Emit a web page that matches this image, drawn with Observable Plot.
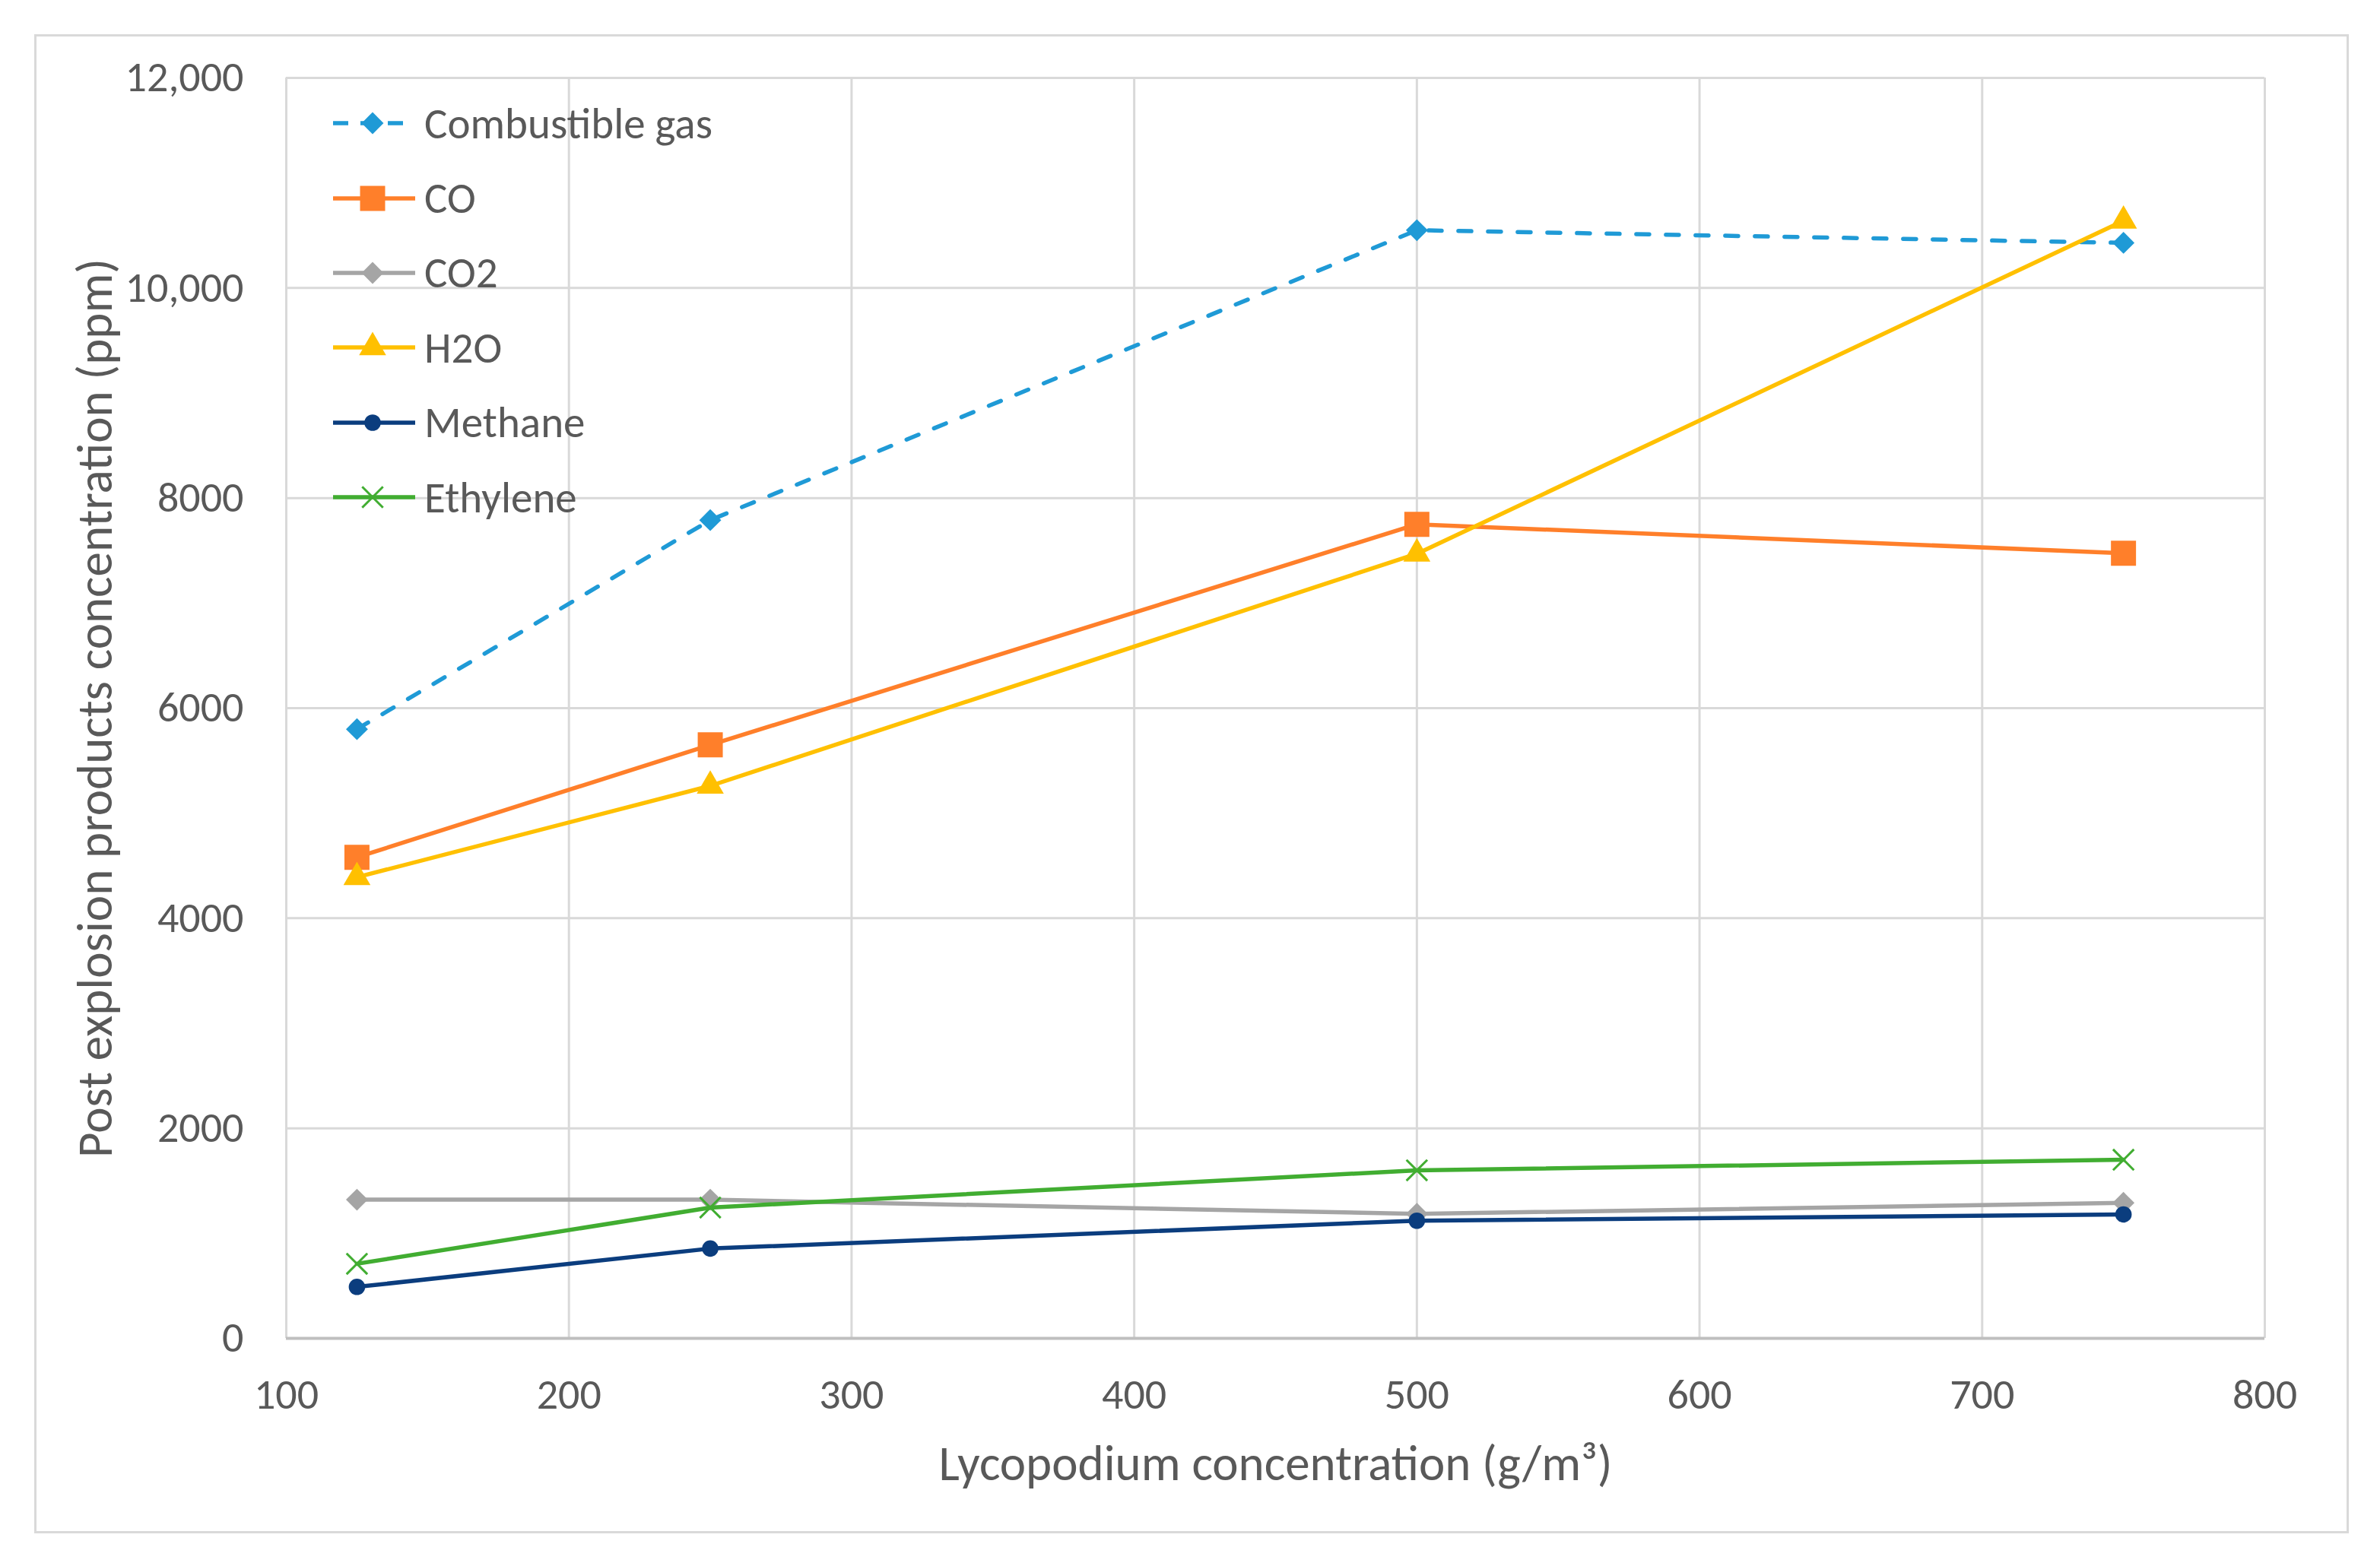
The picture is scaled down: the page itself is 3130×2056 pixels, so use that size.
<!DOCTYPE html>
<html>
<head>
<meta charset="utf-8">
<script src="https://cdn.jsdelivr.net/npm/d3@7"></script>
<script src="https://cdn.jsdelivr.net/npm/@observablehq/plot@0.6"></script>
<style>
html, body { margin: 0; padding: 0; background: #fff; }
#wrap { position: relative; width: 3130px; height: 2056px; overflow: hidden; font-family: Carlito, Calibri, Lato, sans-serif; background: #fff; }
#chart { position: absolute; left: 0; top: 0; }
#frame { position: absolute; left: 45px; top: 45px; width: 3038px; height: 1966px; border: 3px solid #d9d9d9; pointer-events: none; }
#legend { position: absolute; left: 438px; top: 113px; }
.item { display: flex; align-items: center; height: 98.4px; }
.item span { font-size: 57px; color: #595959; margin-left: 12px; white-space: nowrap; }
</style>
</head>
<body>
<div id="wrap"><div id="frame"></div><div id="chart"></div><div id="legend"></div></div>
<script>
// ---- data ----
const xValues = [125, 250, 500, 750];
const seriesNames = ["Combustible gas", "CO", "CO2", "H2O", "Methane", "Ethylene"];
const combustibleGas = [5800, 7790, 10550, 10430];
const co = [4580, 5650, 7750, 7475];
const co2 = [1320, 1320, 1185, 1290];
const h2o = [4390, 5260, 7470, 10640];
const methane = [490, 855, 1120, 1180];
const ethylene = [710, 1245, 1600, 1700];
const seriesValues = [combustibleGas, co, co2, h2o, methane, ethylene];
const seriesColors = ["#1F9AD6", "#FF7F2A", "#A5A5A5", "#FFC000", "#0B3D7E", "#41AD31"];
const seriesSymbols = ["diamond2", "square", "diamond2", "triangle", "circle", "times"];
const xTicks = [100, 200, 300, 400, 500, 600, 700, 800];
const yTicks = [0, 2000, 4000, 6000, 8000, 10000, 12000];
const yTickLabels = ["0", "2000", "4000", "6000", "8000", "10,000", "12,000"];
const xLabel = "Lycopodium concentration (g/m³)";
const yLabel = "Post explosion products concentration (ppm)";

// ---- styles ----
const markerR = {diamond2: 13, square: 18.6, triangle: 13.2, circle: 10.8, times: 12.5};
const dashFor = name => name === "Combustible gas" ? "17,22" : null;

const rows = [];
seriesNames.forEach((name, i) => {
  xValues.forEach((x, j) => rows.push({series: name, x, y: seriesValues[i][j]}));
});

const marks = [
  Plot.gridX(xTicks, {stroke: "#d9d9d9", strokeOpacity: 1, strokeWidth: 3}),
  Plot.gridY(yTicks, {stroke: "#d9d9d9", strokeOpacity: 1, strokeWidth: 3}),
  Plot.ruleY([0], {stroke: "#bfbfbf", strokeWidth: 4})
];
seriesNames.forEach((name, i) => {
  const data = rows.filter(d => d.series === name);
  const color = seriesColors[i];
  const sym = seriesSymbols[i];
  marks.push(Plot.line(data, {x: "x", y: "y", stroke: color, strokeWidth: 5.5, strokeDasharray: dashFor(name), strokeLinecap: "round"}));
  if (sym === "times") {
    marks.push(Plot.dot(data, {x: "x", y: "y", symbol: sym, r: markerR[sym], stroke: color, strokeWidth: 3, fill: "none"}));
  } else {
    marks.push(Plot.dot(data, {x: "x", y: "y", symbol: sym, r: markerR[sym], fill: color, stroke: "none"}));
  }
});

const chart = Plot.plot({
  width: 3130, height: 2056,
  marginLeft: 376, marginRight: 152, marginTop: 102, marginBottom: 296,
  style: {fontFamily: "Carlito, Calibri, Lato, sans-serif", fontSize: "56px", color: "#595959", background: "transparent", overflow: "visible"},
  x: {domain: [100, 800], ticks: xTicks, tickSize: 0, tickPadding: 53, label: xLabel, labelAnchor: "center", labelOffset: 186, labelArrow: "none"},
  y: {domain: [0, 12000], ticks: yTicks, tickSize: 0, tickPadding: 56, tickFormat: d => yTickLabels[yTicks.indexOf(d)], label: yLabel, labelAnchor: "center", labelOffset: 276, labelArrow: "none"},
  marks
});
document.getElementById("chart").appendChild(chart);
d3.select(chart).selectAll('g[aria-label="x-axis label"], g[aria-label="y-axis label"]').attr("font-size", 65);

// ---- legend ----
const legend = d3.select("#legend");
const typeMap = {diamond2: d3.symbolDiamond2, square: d3.symbolSquare, triangle: d3.symbolTriangle, circle: d3.symbolCircle, times: d3.symbolTimes};
seriesNames.forEach((name, i) => {
  const item = legend.append("div").attr("class", "item");
  const svg = item.append("svg").attr("width", 108).attr("height", 98).style("overflow", "visible");
  svg.append("line").attr("x1", 0).attr("x2", 108).attr("y1", 49).attr("y2", 49)
    .attr("stroke", seriesColors[i]).attr("stroke-width", 5.5)
    .attr("stroke-dasharray", dashFor(name) ? "20,16" : null);
  const sym = seriesSymbols[i];
  const r = markerR[sym];
  const p = svg.append("path").attr("transform", "translate(52,49)")
    .attr("d", d3.symbol(typeMap[sym], Math.PI * r * r)());
  if (sym === "times") p.attr("fill", "none").attr("stroke", seriesColors[i]).attr("stroke-width", 3);
  else p.attr("fill", seriesColors[i]);
  item.append("span").text(name);
});
</script>
</body>
</html>
